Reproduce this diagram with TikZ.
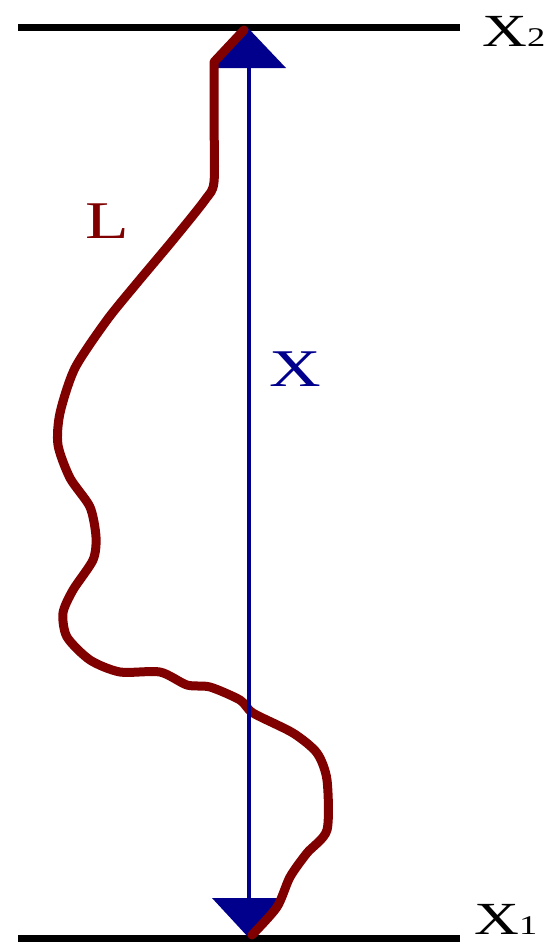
\documentclass[tikz,border=0pt]{standalone}
\usepackage{fontspec}
\setmainfont{Liberation Serif}
\definecolor{pathred}{RGB}{128,0,0}
\definecolor{navy}{RGB}{0,0,140}
\newcommand{\wide}[1]{\scalebox{1.35}[1]{#1}}
\newcommand{\subdigit}[1]{{\fontsize{27}{27}\selectfont #1}}
\begin{document}
\begin{tikzpicture}[x=1pt,y=-1pt,
  levelline/.style={line width=7pt,black},
  pathline/.style={line width=9pt,pathred,line join=round,line cap=round},
  displine/.style={line width=3.2pt,navy},
  head/.style={fill=navy,draw=none},
  lvllabel/.style={inner sep=0pt,anchor=base west,font=\fontsize{46}{46}\selectfont},
  biglabel/.style={inner sep=0pt,anchor=base west,font=\fontsize{53}{53}\selectfont}]
\useasboundingbox[fill=white] (0,0) rectangle (548,948);
% level lines
\coordinate (t1) at (18,27);
\coordinate (t2) at (460,27);
\coordinate (b1) at (18,938);
\coordinate (b2) at (460,938);
\draw[levelline] (t1) -- (t2);
\draw[levelline] (b1) -- (b2);
% arrow heads
\coordinate (ta) at (248,28);
\coordinate (ba) at (249,938);
\fill[head] (ta) -- (212,68) -- (286,68) -- cycle;
\fill[head] (ba) -- (212,898) -- (286,898) -- cycle;
% red path L
\draw[pathline] (244,30) -- (214,62) -- plot[smooth,tension=0.45] coordinates {
 (214,62) (214,120) (214,182) (205,200) (173,240)
 (137,283) (107,320) (75,368) (60,413) (58,445) (70,478) (90,507) (96,537)
 (93,560) (73,590) (63,613) (67,637) (90,660) (120,672) (160,672) (187,685)
 (210,687) (240,700) (253,713) (293,733) (317,753) (327,780) (327,830)
 (307,853) (290,877) (277,907) (252,935)};
% blue displacement line
\coordinate (lt) at (249,66);
\coordinate (lb) at (249,899);
\draw[displine] (lt) -- (lb);
% labels
\node[lvllabel] (x2) at (482,46) {\wide{X\subdigit{2}}};
\node[lvllabel] (x1) at (474,934) {\wide{X\subdigit{1}}};
\node[biglabel,text=navy] (xl) at (269,386) {\wide{X}};
\node[biglabel,text=pathred] (ll) at (85,238) {\wide{L}};
\end{tikzpicture}
\end{document}
